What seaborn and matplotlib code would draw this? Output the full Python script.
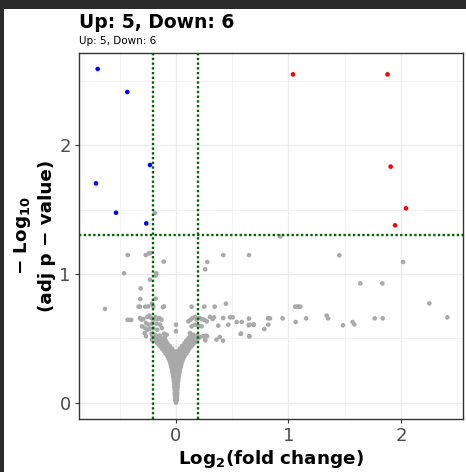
import matplotlib
matplotlib.use("Agg")
import matplotlib.pyplot as plt
import seaborn as sns
import pandas as pd
from matplotlib.ticker import MultipleLocator
from matplotlib.patches import Rectangle

# ---- data ----
down_x = [-0.696, -0.433, -0.231, -0.711, -0.533, -0.264]
down_y = [2.593, 2.414, 1.847, 1.704, 1.476, 1.393]

up_x = [1.04, 1.88, 1.908, 2.044, 1.947]
up_y = [2.551, 2.551, 1.834, 1.51, 1.378]

# central funnel: rows of (y, x positions)
funnel_rows = [
    (0.00, [0.0]),
    (0.02, [-0.008, 0.008]),
    (0.04, [-0.008, 0.008]),
    (0.06, [-0.01, 0.01]),
    (0.08, [-0.01, 0.01]),
    (0.10, [-0.012, 0.012]),
    (0.12, [-0.015, 0.0, 0.015]),
    (0.14, [-0.015, 0.0, 0.015]),
    (0.16, [-0.018, 0.0, 0.018]),
    (0.18, [-0.02, 0.0, 0.02]),
    (0.20, [-0.025, 0.0, 0.025]),
    (0.22, [-0.028, 0.0, 0.028]),
    (0.24, [-0.032, 0.0, 0.032]),
    (0.26, [-0.036, -0.012, 0.012, 0.036]),
    (0.28, [-0.042, -0.014, 0.014, 0.042]),
    (0.30, [-0.048, -0.016, 0.016, 0.048]),
    (0.32, [-0.055, -0.025, 0.0, 0.025, 0.055]),
    (0.34, [-0.065, -0.035, 0.0, 0.035, 0.065]),
    (0.36, [-0.075, -0.045, -0.015, 0.015, 0.045, 0.075]),
    (0.38, [-0.09, -0.06, -0.03, 0.0, 0.03, 0.06, 0.09]),
    (0.40, [-0.105, -0.075, -0.045, -0.015, 0.015, 0.045, 0.075, 0.105]),
    (0.42, [-0.125, -0.095, -0.065, -0.035, 0.035, 0.065, 0.095, 0.12]),
    (0.44, [-0.145, -0.115, -0.085, -0.055, 0.055, 0.085, 0.115, 0.14]),
    (0.46, [-0.165, -0.135, -0.105, -0.075, 0.075, 0.105, 0.135, 0.16]),
    (0.48, [-0.18, -0.15, -0.12, -0.09, 0.09, 0.12, 0.15, 0.18]),
    (0.50, [-0.2, -0.17, -0.14, -0.11, 0.11, 0.14, 0.17, 0.2]),
    (0.52, [-0.21, -0.18, -0.15, 0.13, 0.16, 0.19]),
]

ns_x = [
    # left cluster
    -0.32, -0.308, -0.29, -0.255, -0.237, -0.22, -0.201, -0.184, -0.166, -0.148,
    -0.128, -0.267, -0.243, -0.213, -0.172, -0.142, -0.276, -0.255, -0.231, -0.201,
    -0.166, -0.125, -0.267, -0.216, -0.187, -0.142, -0.107, -0.213, -0.172, -0.134,
    -0.098, -0.083, -0.302, -0.279, -0.201,
    # right cluster
    0.11, 0.13, 0.148, 0.169, 0.184, 0.207, 0.228, 0.249, 0.273, 0.139,
    0.169, 0.198, 0.228, 0.124, 0.154, 0.184, 0.213, 0.243, 0.264, 0.139,
    0.184, 0.302, 0.326, 0.338, 0.376, 0.42, 0.465, 0.48, 0.504, 0.539,
    0.584, 0.649, 0.652, 0.69, 0.652, 0.575, 0.36, 0.418, 0.39, 0.26, 0.276,
    # left outliers
    -0.631, -0.462, -0.429, -0.269, -0.24, -0.228, -0.109, -0.175, -0.181, -0.231,
    -0.314, -0.317, -0.213, -0.181, -0.332, -0.32, -0.273, -0.116, -0.107, -0.429,
    -0.415, -0.397, -0.246, -0.187, 0.0, 0.0,
    # right outliers
    0.26, 0.278, 0.42, 0.649, 0.444, 0.344, 0.252, 0.139, 0.927, 1.452,
    2.018, 1.638, 1.834, 2.252, 2.412, 1.06, 1.075, 1.09, 1.105, 1.064,
    1.156, 1.339, 1.351, 1.484, 1.57, 1.585, 1.766, 1.837, 0.948, 0.818,
    0.836, 0.82, 0.785, 0.646, 0.69, 0.652, 0.578,
]
ns_y = [
    # left cluster
    0.658, 0.645, 0.65, 0.666, 0.676, 0.658, 0.645, 0.666, 0.65, 0.658,
    0.645, 0.619, 0.606, 0.614, 0.614, 0.606, 0.58, 0.567, 0.575, 0.577,
    0.567, 0.58, 0.516, 0.536, 0.528, 0.52, 0.536, 0.49, 0.477, 0.49,
    0.503, 0.528, 0.593, 0.541, 0.748,
    # right cluster
    0.632, 0.645, 0.658, 0.666, 0.645, 0.658, 0.65, 0.645, 0.632, 0.593,
    0.606, 0.598, 0.593, 0.541, 0.528, 0.52, 0.51, 0.516, 0.52, 0.49,
    0.477, 0.666, 0.65, 0.663, 0.598, 0.658, 0.606, 0.663, 0.663, 0.627,
    0.627, 0.653, 0.606, 0.603, 0.516, 0.534, 0.49, 0.482, 0.51, 0.485, 0.516,
    # left outliers
    0.728, 1.005, 1.147, 1.147, 1.16, 1.163, 1.096, 1.005, 0.987, 0.956,
    0.888, 0.805, 0.769, 0.808, 0.746, 0.746, 0.746, 0.741, 0.748, 0.643,
    0.643, 0.643, 0.748, 1.474, 0.606, 0.555,
    # right outliers
    1.036, 1.093, 1.147, 1.147, 0.769, 0.746, 0.746, 0.746, 1.292, 1.145,
    1.093, 0.927, 0.927, 0.771, 0.663, 0.746, 0.746, 0.746, 0.746, 0.627,
    0.655, 0.676, 0.655, 0.601, 0.627, 0.608, 0.655, 0.655, 0.655, 0.655,
    0.655, 0.606, 0.572, 0.601, 0.608, 0.515, 0.536,
]

title_text = "Up: 5, Down: 6"
subtitle_text = "Up: 5, Down: 6"
fc_cut = 0.2
p_cut = 1.301

# ---- build table ----
rows = []
for y, xs in funnel_rows:
    for x in xs:
        rows.append((x, y, "ns"))
for x, y in zip(ns_x, ns_y):
    rows.append((x, y, "ns"))
for x, y in zip(down_x, down_y):
    rows.append((x, y, "down"))
for x, y in zip(up_x, up_y):
    rows.append((x, y, "up"))
df = pd.DataFrame(rows, columns=["log2fc", "nlp", "group"])

sns.set_theme(style="white")
plt.rcParams["font.family"] = ["DejaVu Sans"]

fig = plt.figure(figsize=(4.66, 4.72), dpi=100)
fig.patch.set_facecolor("#2b2b2b")
fig.patches.append(Rectangle((4 / 466, 0), 1, 1 - 9 / 472, transform=fig.transFigure,
                             facecolor="white", edgecolor="none", zorder=-10))

ax = fig.add_axes([79 / 466, 1 - 419 / 472, (463 - 79) / 466, (419 - 53) / 472])
ax.set_facecolor("white")

sns.scatterplot(data=df, x="log2fc", y="nlp", hue="group",
                palette={"ns": "#a9a9a9", "down": "#0000ff", "up": "#ff0000"},
                s=11, linewidth=0, legend=False, ax=ax, zorder=3)

ax.axhline(p_cut, color="#006400", linestyle=(0, (1, 1)), linewidth=1.7, zorder=4)
ax.axvline(-fc_cut, color="#006400", linestyle=(0, (1, 1)), linewidth=1.7, zorder=4)
ax.axvline(fc_cut, color="#006400", linestyle=(0, (1, 1)), linewidth=1.7, zorder=4)

ax.set_xlim(-0.862, 2.551)
ax.set_ylim(-0.127, 2.717)
ax.xaxis.set_major_locator(MultipleLocator(1))
ax.xaxis.set_minor_locator(MultipleLocator(0.5))
ax.yaxis.set_major_locator(MultipleLocator(1))
ax.yaxis.set_minor_locator(MultipleLocator(0.5))
ax.grid(which="major", color="#ebebeb", linewidth=1.0, zorder=0)
ax.grid(which="minor", color="#f2f2f2", linewidth=0.6, zorder=0)
ax.set_axisbelow(True)

for sp in ax.spines.values():
    sp.set_color("#333333")
    sp.set_linewidth(1.0)
    sp.set_visible(True)

ax.tick_params(which="major", axis="both", length=3, width=0.8, color="#333333",
               labelsize=13, labelcolor="#4d4d4d", pad=3, bottom=True, left=True)
ax.tick_params(which="minor", length=0)

ax.set_xlabel(r"Log$_\mathbf{2}$(fold change)", fontsize=13.2, fontweight="bold",
              color="black", labelpad=2)
ax.set_ylabel("\u2212 Log$_\\mathbf{10}$\n(adj p \u2212 value)", fontsize=13.2,
              fontweight="bold", color="black", labelpad=2, linespacing=1.35)

fig.text(79 / 466, 1 - 28 / 472, title_text, fontsize=13.5, fontweight="bold",
         ha="left", va="baseline", color="black")
fig.text(79 / 466, 1 - 44 / 472, subtitle_text, fontsize=7.5,
         ha="left", va="baseline", color="black")

fig.savefig("out.png", dpi=100, facecolor=fig.get_facecolor())
